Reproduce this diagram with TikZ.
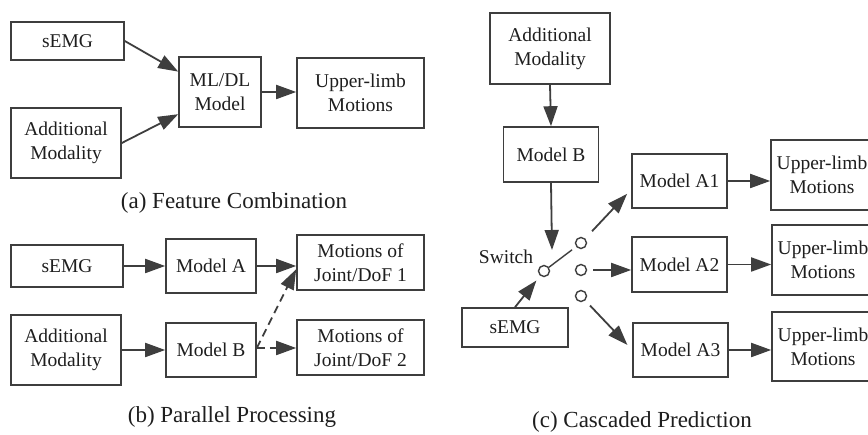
\documentclass[tikz,border=0pt]{standalone}
\usepackage{fontspec}
\setmainfont{Liberation Serif}
\usetikzlibrary{arrows.meta,calc}
\definecolor{ink}{RGB}{62,62,62}
\definecolor{txt}{RGB}{30,30,30}
\tikzset{
  box/.style={draw=ink, line width=1.6pt, fill=white, text=txt, align=center,
    inner sep=0pt, font=\fontsize{19.5}{24}\selectfont},
  arr/.style={draw=ink, line width=1.8pt, -{Triangle[length=20pt,width=14pt]}},
  dsh/.style={arr, dash pattern=on 8pt off 5pt},
  pin/.style={circle, draw=ink, line width=1.4pt, minimum size=11pt, inner sep=0pt, fill=white},
  blade/.style={draw=ink, line width=1.4pt},
  capt/.style={text=txt, font=\fontsize{23}{28}\selectfont},
  lbl/.style={text=txt, font=\fontsize{19.5}{24}\selectfont}
}
\begin{document}
\begin{tikzpicture}[x=1pt,y=-1pt]
\clip (0,0) rectangle (868,435);
\fill[white] (0,0) rectangle (868,435);

% (a) Feature combination
\node[box, minimum width=113pt, minimum height=38pt] (sa) at (67.5,41) {sEMG};
\node[box, minimum width=110pt, minimum height=70pt] (aa) at (66,143) {Additional\\Modality};
\node[box, minimum width=82pt, minimum height=70pt] (ml) at (220,92) {ML/DL\\Model};
\node[box, minimum width=127pt, minimum height=70pt] (ua) at (360.5,93) {Upper-limb\\Motions};
\draw[arr] (sa.east) -- (ml.154);
\draw[arr] (aa.east) -- (ml.208);
\draw[arr] (ml.east) -- (ml.east -| ua.west);
\node[capt] (capa) at (234,203) {(a) Feature Combination};

% (b) Parallel processing
\node[box, minimum width=112pt, minimum height=42pt] (sb) at (67,266) {sEMG};
\node[box, minimum width=90pt, minimum height=54pt] (ma) at (211,266) {Model A};
\node[box, minimum width=127pt, minimum height=55pt] (j1) at (360.5,262.5) {Motions of\\Joint/DoF 1};
\node[box, minimum width=110pt, minimum height=70pt] (ab) at (66,350) {Additional\\Modality};
\node[box, minimum width=90pt, minimum height=54pt] (mb) at (211,350) {Model B};
\node[box, minimum width=127pt, minimum height=55pt] (j2) at (360.5,347.5) {Motions of\\Joint/DoF 2};
\coordinate (mbout) at ($(mb.east)+(0,-2)$);
\coordinate (j2in) at (mbout -| j2.west);
\draw[arr] (sb.east) -- (ma.west);
\draw[arr] (ab.east) -- (mb.west);
\draw[arr] (ma.east) -- (ma.east -| j1.west);
\draw[dsh] (mbout) -- (j1.186);
\draw[dsh] (mbout) -- (j2in);
\node[capt] (capb) at (232,417) {(b) Parallel Processing};

% (c) Cascaded prediction
\node[box, minimum width=120pt, minimum height=71pt] (ac) at (550,48.5) {Additional\\Modality};
\node[box, minimum width=95pt, minimum height=55pt] (mc) at (551,154.5) {Model B};
\node[box, minimum width=95pt, minimum height=54pt] (a1) at (679.5,181) {Model A1};
\node[box, minimum width=95pt, minimum height=55pt] (a2) at (679.5,264.5) {Model A2};
\node[box, minimum width=95pt, minimum height=54pt] (a3) at (680.5,350) {Model A3};
\node[box, minimum width=102pt, minimum height=70pt] (u1) at (822,175) {Upper-limb\\Motions};
\node[box, minimum width=102pt, minimum height=70pt] (u2) at (823,260) {Upper-limb\\Motions};
\node[box, minimum width=102pt, minimum height=69pt] (u3) at (823,346.5) {Upper-limb\\Motions};
\node[box, minimum width=106pt, minimum height=39pt] (sc) at (515,327.5) {sEMG};

% switch contacts
\node[pin] (pv) at (544,271) {};
\node[pin] (t1) at (581,243) {};
\node[pin] (t2) at (581,270) {};
\node[pin] (t3) at (581,296) {};
\node[lbl] (sw) at (506,257) {Switch};
\coordinate (mctip) at (552,250);
\coordinate (a2in) at (t2 -| a2.west);

\draw[arr] (ac.south) -- (mc.north);
\draw[arr] (mc.south) -- (mctip);
\draw[arr, shorten >=6pt] (sc.north) -- (pv);
\draw[blade, shorten >=5pt] (pv) -- (t1);
\draw[arr, shorten <=10pt, shorten >=6pt] (t1) -- (a1.190);
\draw[arr, shorten <=6pt] (t2) -- (a2in);
\draw[arr, shorten <=7pt, shorten >=7pt] (t3) -- (a3.west);
\draw[arr] (a1.east) -- (a1.east -| u1.west);
\draw[arr] (a2.east) -- (a2.east -| u2.west);
\draw[arr] (a3.east) -- (a3.east -| u3.west);
\node[capt] (capc) at (642,422) {(c) Cascaded Prediction};
\end{tikzpicture}
\end{document}
